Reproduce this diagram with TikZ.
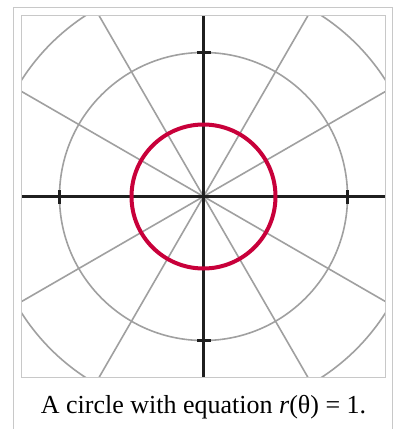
\documentclass[tikz,border=0pt]{standalone}
\usepackage{fontspec}
\setmainfont{Liberation Serif}
\definecolor{frame}{RGB}{200,200,200}
\definecolor{gridgray}{RGB}{160,160,160}
\definecolor{crimson}{RGB}{200,0,58}
\tikzset{
  framestyle/.style={draw=frame, line width=1.6pt},
  gridline/.style={draw=gridgray, line width=1.6pt},
  axisline/.style={draw=black!88, line width=3.4pt},
  tickline/.style={draw=black!88, line width=3pt},
  curve/.style={draw=crimson, line width=4pt},
  captiontext/.style={anchor=base, inner sep=0pt, font=\fontsize{26}{30}\selectfont}
}
\begin{document}
\begin{tikzpicture}[x=1pt,y=1pt]
\useasboundingbox (0,0) rectangle (395,-429);
\fill[white] (0,0) rectangle (395,-429);
% outer frame (bottom cut off)
\draw[framestyle] (13.5,-429) -- (13.5,-7.5) -- (392.5,-7.5) -- (392.5,-429);
% inner image
\coordinate (c) at (203.5,-196.5);
\begin{scope}
\clip (21.5,-15.5) rectangle (385.5,-377.5);
\foreach \a in {30,60,120,150,210,240,300,330}
  \draw[gridline] (c) -- ++(\a:320);
\draw[gridline] (c) circle[radius=144];
\draw[gridline] (c) circle[radius=216];
\draw[axisline] (c) ++(-200,0) coordinate (xl) -- ++(400,0) coordinate (xr);
\draw[axisline] (c) ++(0,-200) coordinate (yb) -- ++(0,400) coordinate (yt);
\foreach \p in {(144,0),(-144,0)}
  \draw[tickline] (c) ++\p ++(0,-7) -- ++(0,14);
\foreach \p in {(0,144),(0,-144)}
  \draw[tickline] (c) ++\p ++(-7,0) -- ++(14,0);
\draw[curve] (c) circle[radius=72];
\end{scope}
\draw[framestyle] (21.5,-15.5) rectangle (385.5,-377.5);
\node[captiontext] (cap) at (203.5,-413) {A circle with equation \textit{r}(θ) = 1.};
\end{tikzpicture}
\end{document}
